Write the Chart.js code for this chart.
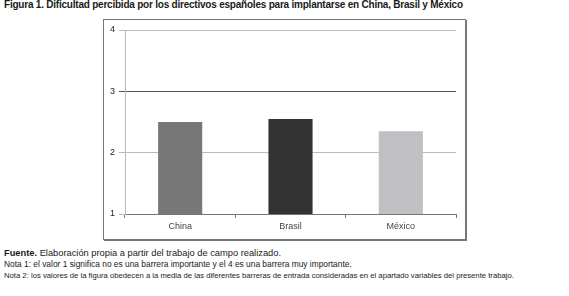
<!DOCTYPE html>
<html>
<head>
<meta charset="utf-8">
<script src="https://cdn.jsdelivr.net/npm/chart.js@4"></script>
<style>
  html, body { margin: 0; padding: 0; background: #fff; }
  body { width: 569px; height: 296px; position: relative; overflow: hidden; font-family: "Liberation Sans", Arial, sans-serif; color: #1a1a1a; }
  .txt { position: absolute; white-space: nowrap; left: 4px; }
  #title { top: -1px; font-size: 10px; font-weight: bold; letter-spacing: -0.22px; }
  #box { position: absolute; left: 103px; top: 19px; width: 361px; height: 219px; border: 1px solid #777; box-shadow: 1px 1px 0 #777; }
  #chart { position: absolute; left: 0; top: 0; }
  #fuente { top: 248px; font-size: 9.3px; }
  #nota1 { top: 259px; font-size: 8.4px; }
  #nota2 { top: 271px; font-size: 7.7px; }
</style>
</head>
<body>
<div class="txt" id="title">Figura 1. Dificultad percibida por los directivos españoles para implantarse en China, Brasil y México</div>
<div id="box"><canvas id="chart" width="361" height="219"></canvas></div>
<div class="txt" id="fuente"><b>Fuente.</b> Elaboración propia a partir del trabajo de campo realizado.</div>
<div class="txt" id="nota1">Nota 1: el valor 1 significa no es una barrera importante y el 4 es una barrera muy importante.</div>
<div class="txt" id="nota2">Nota 2: los valores de la figura obedecen a la media de las diferentes barreras de entrada consideradas en el apartado variables del presente trabajo.</div>
<script>
  const countries = ["China", "Brasil", "México"];
  const dificultad = [2.5, 2.55, 2.35];
  const barColors = ["#777777", "#333333", "#c0c0c4"];
  const yTicks = [1, 2, 3, 4];

  const ctx = document.getElementById("chart");
  new Chart(ctx, {
    type: "bar",
    data: {
      labels: countries,
      datasets: [{
        data: dificultad,
        backgroundColor: barColors,
        borderWidth: 0,
        barPercentage: 0.4,
        categoryPercentage: 1
      }]
    },
    options: {
      responsive: false,
      animation: false,
      layout: { padding: { top: 10, right: 9, left: 0, bottom: 0 } },
      plugins: { legend: { display: false }, tooltip: { enabled: false } },
      scales: {
        x: {
          offset: true,
          grid: { drawOnChartArea: false, drawTicks: true, tickLength: 4, color: "#777", offset: true },
          border: { color: "#777", width: 1 },
          ticks: { color: "#444", font: { family: "Liberation Sans", size: 9 }, padding: 3 },
          afterFit: (s) => { s.height = 25; }
        },
        y: {
          min: 1,
          max: 4,
          afterBuildTicks: (s) => { s.ticks = yTicks.map(v => ({ value: v })); },
          grid: {
            color: (c) => c.tick && c.tick.value === 3 ? "#555" : "#bbb",
            tickLength: 6
          },
          border: { color: "#bbb" },
          ticks: { color: "#222", font: { family: "Liberation Sans", size: 9 }, padding: 4 },
          afterFit: (s) => { s.width = 21; }
        }
      }
    }
  });
</script>
</body>
</html>
